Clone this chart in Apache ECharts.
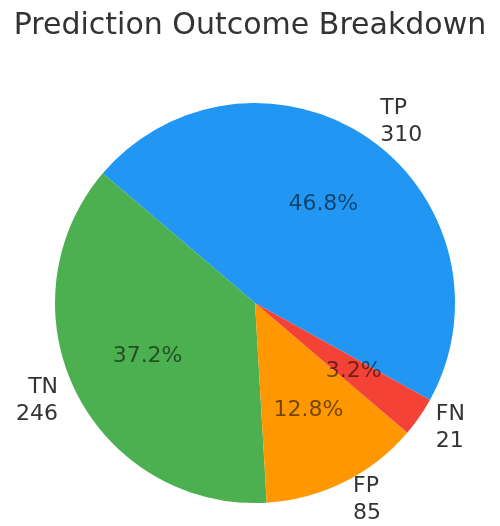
<!DOCTYPE html>
<html>
<head>
<meta charset="utf-8">
<script src="https://cdn.jsdelivr.net/npm/echarts@6/dist/echarts.min.js"></script>
<style>
  html, body { margin: 0; padding: 0; background: #fff; }
  #chart { width: 500px; height: 526px; }
</style>
</head>
<body>
<div id="chart"></div>
<script>
// data, counterclockwise order as in the picture
const labels = ['TP', 'TN', 'FP', 'FN'];
const counts = [310, 246, 85, 21];
const colors = ['#2196F3', '#4CAF50', '#FF9800', '#F44336'];

const total = counts.reduce((a, b) => a + b, 0);
const pieData = labels.map((name, i) => ({
  name: name,
  value: counts[i],
  itemStyle: { color: colors[i] }
}));

const chart = echarts.init(document.getElementById('chart'), null, { renderer: 'canvas' });

chart.setOption({
  animation: false,
  title: {
    text: 'Prediction Outcome Breakdown',
    left: 'center',
    top: 6,
    textStyle: {
      fontFamily: 'DejaVu Sans',
      fontSize: 30,
      fontWeight: 'normal',
      color: '#333'
    }
  },
  series: [
    {
      // wedges + outer name/count labels
      type: 'pie',
      center: [255, 303],
      radius: [0, 200],
      startAngle: -29,
      clockwise: false,
      avoidLabelOverlap: false,
      silent: true,
      itemStyle: { borderWidth: 0 },
      label: {
        position: 'outside',
        formatter: p => p.name + '\n' + p.value,
        fontFamily: 'DejaVu Sans',
        fontSize: 22,
        lineHeight: 27,
        color: '#333',
        distanceToLabelLine: 0
      },
      labelLine: { show: false, length: 20, length2: 0 },
      data: pieData
    },
    {
      // transparent copy carrying the percentage labels
      type: 'pie',
      center: [255, 303],
      radius: [0, 234],
      startAngle: -29,
      clockwise: false,
      avoidLabelOverlap: false,
      silent: true,
      itemStyle: { color: 'rgba(0,0,0,0)', borderWidth: 0 },
      label: {
        position: 'inside',
        formatter: p => (p.value / total * 100).toFixed(1) + '%',
        fontFamily: 'DejaVu Sans',
        fontSize: 22,
        color: 'rgba(0,0,0,0.55)'
      },
      labelLine: { show: false },
      data: labels.map((name, i) => ({ name: name, value: counts[i] }))
    }
  ]
});
</script>
</body>
</html>
